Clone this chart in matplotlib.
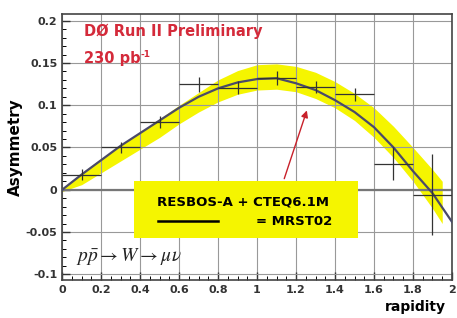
import numpy as np
import matplotlib.pyplot as plt

# measured asymmetry (bin centres, half widths, values, errors)
rap = [0.1, 0.3, 0.5, 0.7, 0.9, 1.1, 1.3, 1.5, 1.7, 1.9]
rap_err = [0.1] * 10
asym = [0.018, 0.050, 0.080, 0.125, 0.121, 0.132, 0.122, 0.113, 0.031, -0.006]
asym_err = [0.007, 0.007, 0.007, 0.009, 0.008, 0.008, 0.007, 0.008, 0.020, 0.048]

# theory curve (MRST02) and RESBOS-A + CTEQ6.1M band
th_x = [0.0, 0.1, 0.2, 0.3, 0.4, 0.5, 0.6, 0.7, 0.8, 0.9, 1.0,
        1.1, 1.2, 1.3, 1.4, 1.5, 1.6, 1.7, 1.8, 1.9, 2.0]
th_y = [0.0, 0.018, 0.035, 0.052, 0.067, 0.082, 0.097, 0.110, 0.120, 0.127, 0.131,
        0.132, 0.126, 0.118, 0.106, 0.092, 0.074, 0.050, 0.022, -0.004, -0.038]
band_x = [0.0, 0.1, 0.2, 0.3, 0.4, 0.5, 0.6, 0.7, 0.8, 0.9, 1.0,
          1.1, 1.2, 1.3, 1.4, 1.5, 1.6, 1.7, 1.8, 1.9, 1.95]
band_lo = [-0.002, 0.006, 0.020, 0.034, 0.048, 0.062, 0.078, 0.092, 0.104, 0.113, 0.118,
           0.119, 0.116, 0.108, 0.097, 0.082, 0.062, 0.038, 0.010, -0.022, -0.040]
band_hi = [0.002, 0.020, 0.037, 0.052, 0.068, 0.084, 0.100, 0.115, 0.130, 0.141, 0.148,
           0.149, 0.146, 0.139, 0.128, 0.114, 0.097, 0.075, 0.050, 0.024, 0.010]

fig = plt.figure(figsize=(4.57, 3.18), dpi=100)
ax = fig.add_axes([0.136, 0.119, 0.853, 0.837])

ax.fill_between(band_x, band_lo, band_hi, color='#f5f500', lw=0, zorder=1)
ax.plot(th_x, th_y, color='#4a4a6a', lw=1.6, zorder=3)
ax.errorbar(rap, asym, xerr=rap_err, yerr=asym_err, fmt='none',
            ecolor='#333333', elinewidth=0.9, capsize=0, zorder=4)

ax.axhline(0, color='#777777', lw=1.6, zorder=2)
ax.set_xlim(0, 2)
ax.set_ylim(-0.107, 0.208)
ax.set_xticks(np.arange(0, 2.01, 0.2))
ax.set_xticklabels(['0', '0.2', '0.4', '0.6', '0.8', '1', '1.2', '1.4', '1.6', '1.8', '2'])
ax.set_yticks([-0.1, -0.05, 0, 0.05, 0.1, 0.15, 0.2])
ax.set_yticklabels(['-0.1', '-0.05', '0', '0.05', '0.1', '0.15', '0.2'])
ax.set_xticks(np.arange(0, 2.01, 0.05), minor=True)
ax.set_yticks(np.arange(-0.1, 0.201, 0.01), minor=True)
ax.tick_params(direction='in', length=6, width=1, labelsize=8, colors='#333333')
ax.tick_params(which='minor', direction='in', length=3, width=0.7)
for lab in ax.get_xticklabels() + ax.get_yticklabels():
    lab.set_fontweight('bold')
ax.grid(True, color='#999999', lw=0.8, zorder=0)
for s in ax.spines.values():
    s.set_color('#444444')
    s.set_linewidth(1.2)

ax.set_ylabel('Asymmetry', fontsize=11, fontweight='bold', labelpad=2)
fig.text(0.975, 0.012, 'rapidity', ha='right', va='bottom', fontsize=10, fontweight='bold')

ax.text(0.11, 0.182, 'D\u00d8 Run II Preliminary', color='#d42a3a', fontsize=10.5,
        fontweight='bold', zorder=6)
t = ax.text(0.11, 0.150, '230 pb', color='#d42a3a', fontsize=10.5,
            fontweight='bold', zorder=6)
ax.annotate('-1', xy=(1, 1), xycoords=t, xytext=(0.5, 1), textcoords='offset points',
            va='top', color='#d42a3a', fontsize=6.5, fontweight='bold', zorder=6)

ax.add_patch(plt.Rectangle((0.37, -0.057), 1.15, 0.067, color='#f5f500', lw=0, zorder=5))
ax.text(0.93, -0.014, 'RESBOS-A + CTEQ6.1M', ha='center', va='center', fontsize=9.5,
        fontweight='bold', zorder=6)
ax.plot([0.49, 0.80], [-0.037, -0.037], color='black', lw=1.8, zorder=6)
ax.text(1.19, -0.038, '= MRST02', ha='center', va='center', fontsize=9.5,
        fontweight='bold', zorder=6)
ax.annotate('', xy=(1.26, 0.097), xytext=(1.135, 0.010),
            arrowprops=dict(arrowstyle='-|>', color='#c8202a', lw=1.0), zorder=6)

ax.text(0.07, -0.079, r'$p\bar{p} \rightarrow W \rightarrow \mu\nu$', fontsize=14,
        color='#222222', va='center', math_fontfamily='stix', zorder=6)

fig.savefig('out.png', dpi=100)
